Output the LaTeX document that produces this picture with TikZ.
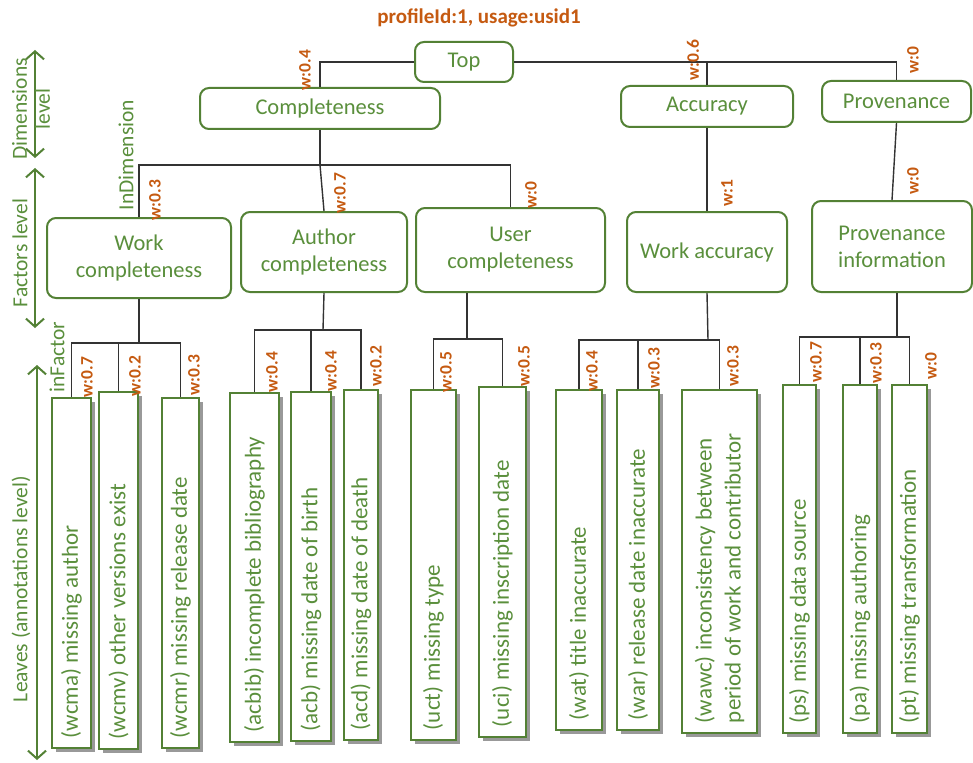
\documentclass[tikz,border=0pt]{standalone}
\usepackage{fontspec}
\setmainfont{Carlito}
\usetikzlibrary{arrows.meta,shadows}
\definecolor{grn}{HTML}{538135}
\definecolor{txtgrn}{HTML}{5A8F3C}
\definecolor{org}{HTML}{C55A11}
\newcommand{\leaftext}[2]{\rotatebox{90}{\parbox{\dimexpr#1pt-20pt\relax}{\raggedright #2}}}
\begin{document}
\begin{tikzpicture}[x=1pt,y=-1pt,
  box/.style={draw=grn, line width=2pt, rounded corners=9pt, fill=white, text=txtgrn,
    align=center, font=\fontsize{22.5}{27}\selectfont, inner sep=2pt},
  leaf/.style={draw=grn, line width=2.4pt, fill=white, text=txtgrn,
    font=\fontsize{23}{29}\selectfont, inner sep=0pt,
    drop shadow={shadow xshift=4pt, shadow yshift=-4pt, fill=black, opacity=0.4}},
  conn/.style={draw=black!80, line width=1.4pt},
  wt/.style={text=org, font=\bfseries\fontsize{17.5}{20}\selectfont, rotate=90, inner sep=0pt},
  lvl/.style={text=txtgrn, font=\fontsize{21.5}{23}\selectfont, rotate=90, inner sep=0pt, align=center},
  lvlarrow/.style={draw=grn, line width=2pt,
    {Straight Barb[length=8pt,width=18pt]}-{Straight Barb[length=8pt,width=18pt]}}]
\useasboundingbox (0,0) rectangle (973,762);

% title
\node[text=org, font=\bfseries\fontsize{21}{24}\selectfont] (title) at (479,18) {profileId:1, usage:usid1};

% level markers
\draw[lvlarrow] (35,50) coordinate (d1) -- (35,158) coordinate (d2);
\draw[lvlarrow] (35,168) coordinate (f1) -- (35,328) coordinate (f2);
\draw[lvlarrow] (37,365) coordinate (l1) -- (37,760) coordinate (l2);
\node[lvl] (dimlvl) at (31,109) {Dimensions\\level};
\node[lvl] (faclvl) at (20,253) {Factors level};
\node[lvl] (leaflvl) at (21,589) {Leaves (annotations level)};
\node[lvl] (indim) at (126,155) {InDimension};
\node[lvl] (infac) at (57,357) {inFactor};

% dimension level
\node[box, minimum width=98pt, minimum height=40pt] (top) at (464,62) {Top};
\node[box, minimum width=240pt, minimum height=41pt] (comp) at (320,108.5) {Completeness};
\node[box, minimum width=172pt, minimum height=41pt] (acc) at (707,106.5) {Accuracy};
\node[box, minimum width=149pt, minimum height=41pt] (prov) at (896.5,101.5) {Provenance};

% factor level
\node[box, minimum width=184pt, minimum height=80pt] (wc) at (139,258) {Work\\completeness};
\node[box, minimum width=166pt, minimum height=80pt] (ac) at (324,252) {Author\\completeness};
\node[box, minimum width=189pt, minimum height=84pt] (uc) at (510.5,250) {User\\completeness};
\node[box, minimum width=160pt, minimum height=80pt] (wa) at (707,252) {Work accuracy};
\node[box, minimum width=160pt, minimum height=91pt] (pi) at (892,246.5) {Provenance\\information};

% leaves
\node[leaf, minimum width=39pt, minimum height=350pt] (wcma) at (71.5,573) {\leaftext{350}{(wcma) missing author}};
\node[leaf, minimum width=39pt, minimum height=357pt] (wcmv) at (118.5,570.5) {\leaftext{357}{(wcmv) other versions exist}};
\node[leaf, minimum width=37pt, minimum height=350pt] (wcmr) at (180.5,573) {\leaftext{350}{(wcmr) missing release date}};
\node[leaf, minimum width=49pt, minimum height=349pt] (acbib) at (254.5,567.5) {\leaftext{349}{(acbib) incomplete bibliography}};
\node[leaf, minimum width=40pt, minimum height=349pt] (acb) at (311,566.5) {\leaftext{349}{(acb) missing date of birth}};
\node[leaf, minimum width=34pt, minimum height=350pt] (acd) at (361,565) {\leaftext{350}{(acd) missing date of death}};
\node[leaf, minimum width=45pt, minimum height=350pt] (uct) at (433.5,565) {\leaftext{350}{(uct) missing type}};
\node[leaf, minimum width=47pt, minimum height=350pt] (uci) at (502.5,562) {\leaftext{350}{(uci) missing inscription date}};
\node[leaf, minimum width=46pt, minimum height=340pt] (wat) at (579,560) {\leaftext{340}{(wat) title inaccurate}};
\node[leaf, minimum width=42pt, minimum height=340pt] (war) at (638,560) {\leaftext{340}{(war) release date inaccurate}};
\node[leaf, minimum width=75pt, minimum height=343pt] (wawc) at (719.5,561.5) {\leaftext{343}{(wawc) inconsistency between\\period of work and contributor}};
\node[leaf, minimum width=33pt, minimum height=348pt] (ps) at (799.5,559) {\leaftext{348}{(ps) missing data source}};
\node[leaf, minimum width=34pt, minimum height=348pt] (pa) at (860,559) {\leaftext{348}{(pa) missing authoring}};
\node[leaf, minimum width=35pt, minimum height=348pt] (pt) at (909.5,559) {\leaftext{348}{(pt) missing transformation}};

% connectors: top to dimensions
\draw[conn] (top.west) -| (comp.north);
\draw[conn] (top.east) -| (acc.north);
\draw[conn] (acc.north |- top.east) -| (prov.north);

% dimensions to factors
\coordinate (jc) at (320,165);
\draw[conn] (comp.south) -- (jc);
\draw[conn] (wc.north) |- (jc) -| (uc.north);
\draw[conn] (jc) -- (ac.north);
\draw[conn] (acc.south) -- (wa.north);
\draw[conn] (prov.south) -- (pi.north);

% factors to leaves
\coordinate (jwc) at (139,343);
\draw[conn] (wc.south) -- (jwc);
\draw[conn] (wcma.north) |- (jwc) -| (wcmr.north);
\draw[conn] (wcmv.north) -- (wcmv.north |- jwc);

\coordinate (jac) at (323,330);
\draw[conn] (ac.south) -- (jac);
\draw[conn] (acbib.north) |- (jac) -| (acd.north);
\draw[conn] (acb.north) -- (acb.north |- jac);

\coordinate (juc) at (467,339);
\draw[conn] (juc |- uc.south) -- (juc);
\draw[conn] (uct.north) |- (juc) -| (uci.north);

\coordinate (jwa) at (708,340);
\draw[conn] (wa.south) -- (jwa);
\draw[conn] (wat.north) |- (jwa) -| (wawc.north);
\draw[conn] (war.north) -- (war.north |- jwa);

\coordinate (jpi) at (897,337);
\draw[conn] (jpi |- pi.south) -- (jpi);
\draw[conn] (ps.north) |- (jpi) -| (pt.north);
\draw[conn] (pa.north) -- (pa.north |- jpi);

% weights
\node[wt] (w1) at (305,70) {w:0.4};
\node[wt] (w2) at (693,60) {w:0.6};
\node[wt] (w3) at (913,60) {w:0};
\node[wt] (w4) at (155,200) {w:0.3};
\node[wt] (w5) at (340,193) {w:0.7};
\node[wt] (w6) at (531,195) {w:0};
\node[wt] (w7) at (727,193) {w:1};
\node[wt] (w8) at (913,181) {w:0};
\node[wt] (w9) at (87,377) {w:0.7};
\node[wt] (w10) at (135,376) {w:0.2};
\node[wt] (w11) at (194,375) {w:0.3};
\node[wt] (w12) at (272,372) {w:0.4};
\node[wt] (w13) at (331,371) {w:0.4};
\node[wt] (w14) at (376,366) {w:0.2};
\node[wt] (w15) at (446,372) {w:0.5};
\node[wt] (w16) at (524,366) {w:0.5};
\node[wt] (w17) at (592,371) {w:0.4};
\node[wt] (w18) at (654,368) {w:0.3};
\node[wt] (w19) at (733,366) {w:0.3};
\node[wt] (w20) at (816,362) {w:0.7};
\node[wt] (w21) at (876,363) {w:0.3};
\node[wt] (w22) at (931,366) {w:0};
\end{tikzpicture}
\end{document}
